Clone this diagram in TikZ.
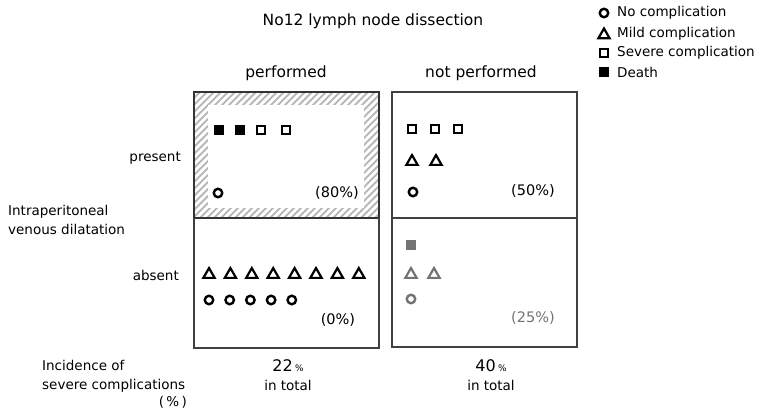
\documentclass[tikz,border=0pt]{standalone}
\usepackage{fontspec}
\setmainfont{DejaVu Sans}
\usetikzlibrary{positioning, shapes.geometric}
\tikzset{
  body text/.style={font=\fontsize{13.5}{19}\selectfont, inner sep=0pt},
  head text/.style={font=\fontsize{15.5}{19}\selectfont, inner sep=0pt},
  pct text/.style={font=\fontsize{14.5}{19}\selectfont, inner sep=0pt},
  nocomp/.style={circle, draw, line width=2.4pt, minimum size=8.5pt, inner sep=0pt},
  mildcomp/.style={regular polygon, regular polygon sides=3, draw, line width=2.2pt, minimum size=13pt, inner sep=0pt},
  severecomp/.style={rectangle, draw, line width=2.4pt, minimum size=8pt, inner sep=0pt},
  deathcase/.style={rectangle, fill, minimum size=10.5pt, inner sep=0pt},
  panel line/.style={line width=1.2pt, black!75},
  hatch line/.style={line width=2pt, gray!55}
}

\begin{document}
\begin{tikzpicture}[x=1pt, y=-1pt]
    \useasboundingbox (0,0) rectangle (761,410);

    % titles
    \node[head text] (dissection_title) at (373,21) {No12 lymph node dissection};
    \node[head text] (performed_head) at (286,73) {performed};
    \node[head text] (not_performed_head) at (481,73) {not performed};

    % legend
    \node[nocomp] (legend_no) at (604,13) {};
    \node[mildcomp] (legend_mild) at (604,35) {};
    \node[severecomp] (legend_severe) at (604,53) {};
    \node[deathcase] (legend_death) at (604,72) {};
    \node[body text, right=13pt of legend_no.center] (legend_no_text) {No complication};
    \node[body text, right=13pt of legend_mild.center, yshift=1.5pt] (legend_mild_text) {Mild complication};
    \node[body text, right=13pt of legend_severe.center] (legend_severe_text) {Severe complication};
    \node[body text, right=13pt of legend_death.center] (legend_death_text) {Death};

    % panels
    \begin{scope}
        \clip (194,92) rectangle (379,218);
        \foreach \i in {0,...,46}
            \draw[hatch line] (60+7*\i,218) -- (186+7*\i,92);
    \end{scope}
    \fill[white] (208,105) rectangle (364,208);
    \draw[line width=2pt, black!80] (194,92) rectangle (379,218);
    \draw[panel line] (194,218) -- (194,348) -- (379,348) -- (379,218);
    \draw[panel line] (392,92) rectangle (577,347);
    \draw[panel line] (392,218) -- (577,218);

    % row labels
    \node[body text, anchor=east] (present_label) at (181,158) {present};
    \node[body text, anchor=east] (absent_label) at (179,275) {absent};
    \node[body text, anchor=west, align=left] (dilatation_label) at (8,220) {Intraperitoneal\\venous dilatation};
    \node[body text, anchor=west, align=left] (incidence_label) at (42,376) {Incidence of\\severe complications};
    \node[body text, anchor=east] (incidence_unit) at (187,402) {(\,\%\,)};

    % performed, present
    \node[deathcase] (perf_pres_death1) at (219,130) {};
    \node[deathcase] (perf_pres_death2) at (240,130) {};
    \node[severecomp] (perf_pres_severe1) at (261,130) {};
    \node[severecomp] (perf_pres_severe2) at (286,130) {};
    \node[nocomp] (perf_pres_no1) at (218,193) {};
    \node[pct text] (perf_pres_pct) at (337,193) {(80\%)};

    % performed, absent
    \foreach \i in {0,...,7}
        \node[mildcomp] (perf_abs_mild\i) at (209+21.4*\i,274.6) {};
    \foreach \i in {0,...,4}
        \node[nocomp] (perf_abs_no\i) at (209+20.7*\i,300) {};
    \node[pct text] (perf_abs_pct) at (338,320) {(0\%)};

    % not performed, present
    \node[severecomp] (notp_pres_severe1) at (412,129) {};
    \node[severecomp] (notp_pres_severe2) at (435,129) {};
    \node[severecomp] (notp_pres_severe3) at (458,129) {};
    \node[mildcomp] (notp_pres_mild1) at (412,161.6) {};
    \node[mildcomp] (notp_pres_mild2) at (436,161.6) {};
    \node[nocomp] (notp_pres_no1) at (413,192) {};
    \node[pct text] (notp_pres_pct) at (533,191) {(50\%)};

    % not performed, absent
    \node[deathcase, fill=black!55] (notp_abs_death1) at (411,245) {};
    \node[mildcomp, draw=black!55] (notp_abs_mild1) at (411,274.6) {};
    \node[mildcomp, draw=black!55] (notp_abs_mild2) at (434,274.6) {};
    \node[nocomp, draw=black!55] (notp_abs_no1) at (411,299) {};
    \node[pct text, text=black!55] (notp_abs_pct) at (533,318) {(25\%)};

    % totals
    \node[body text, align=center] (performed_total) at (288,375) {{\fontsize{16}{19}\selectfont 22}\,{\small\%}\\in total};
    \node[body text, align=center] (not_performed_total) at (491,375) {{\fontsize{16}{19}\selectfont 40}\,{\small\%}\\in total};
\end{tikzpicture}
\end{document}
